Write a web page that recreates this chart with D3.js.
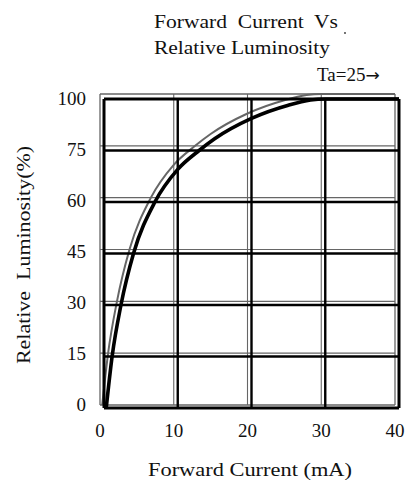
<!DOCTYPE html>
<html>
<head>
<meta charset="utf-8">
<script src="https://cdn.jsdelivr.net/npm/d3@7"></script>
<style>
  body { margin: 0; background: #fff; }
  text { font-family: "Liberation Serif", "DejaVu Serif", serif; fill: #111; white-space: pre; }
</style>
</head>
<body>
<svg id="chart" width="408" height="484"></svg>
<script>
// grid ticks (y axis is not linear: equal rows for 0..75 then 100)
const xTicks = [0, 10, 20, 30, 40]
const yTicks = [0, 15, 30, 45, 60, 75, 100]

// forward current (mA) vs relative luminosity (%)
const current = [0.3, 1.1, 2.3, 4.0, 6.9, 10, 12.9, 15, 20, 25, 28, 30, 40]
const luminosity = [0, 15, 30, 45, 60, 69.5, 75, 80.7, 90.6, 97, 99.5, 100, 100]

const svg = d3.select('#chart')

// the plot is printed twice: a faint copy shifted up-left, and the bold one
const layers = [
  { left: 100, right: 395, top: 94, bottom: 405, color: '#666', grid: 1.1, frame: 1.3, curve: 2 },
  { left: 104, right: 399, top: 99, bottom: 408, color: '#000', grid: 2.4, frame: 3, curve: 3.6 }
]

const makeScales = (l) => {
  const x = d3.scaleLinear().domain([0, 40]).range([l.left, l.right])
  const y = d3.scaleLinear()
    .domain(yTicks)
    .range(yTicks.map((d, i) => l.bottom - i * (l.bottom - l.top) / (yTicks.length - 1)))
  return { x, y }
}

layers.forEach((l) => {
  const { x, y } = makeScales(l)
  const g = svg.append('g')

  g.selectAll('.vline')
    .data(xTicks)
    .enter()
    .append('line')
    .attr('x1', (d) => x(d))
    .attr('x2', (d) => x(d))
    .attr('y1', y(0))
    .attr('y2', y(100))
    .attr('stroke', l.color)
    .attr('stroke-width', (d) => (d === 0 || d === 40) ? l.frame : l.grid)

  g.selectAll('.hline')
    .data(yTicks)
    .enter()
    .append('line')
    .attr('x1', x(0))
    .attr('x2', x(40))
    .attr('y1', (d) => y(d))
    .attr('y2', (d) => y(d))
    .attr('stroke', l.color)
    .attr('stroke-width', (d) => (d === 0 || d === 100) ? l.frame : l.grid)

  const line = d3.line()
    .x((d, i) => x(current[i]))
    .y((d) => y(d))
    .curve(d3.curveMonotoneX)

  g.append('path')
    .datum(luminosity)
    .attr('d', line)
    .attr('fill', 'none')
    .attr('stroke', l.color)
    .attr('stroke-width', l.curve)
})

// tick labels sit between the two copies
const xLab = makeScales(layers[0]).x
const yLab = d3.scaleLinear()
  .domain(yTicks)
  .range(yTicks.map((d, i) => 404 - i * (404 - 98) / (yTicks.length - 1)))

svg.selectAll('.xtick')
  .data(xTicks)
  .enter()
  .append('text')
  .attr('x', (d) => xLab(d))
  .attr('y', 437)
  .attr('text-anchor', 'middle')
  .style('font-size', '19px')
  .text((d) => d)

svg.selectAll('.ytick')
  .data(yTicks)
  .enter()
  .append('text')
  .attr('x', 86)
  .attr('y', (d) => yLab(d))
  .attr('dy', '0.35em')
  .attr('text-anchor', 'end')
  .style('font-size', '19px')
  .text((d) => d)

// titles
svg.append('text')
  .attr('x', 154)
  .attr('y', 28)
  .attr('textLength', 184)
  .attr('lengthAdjust', 'spacingAndGlyphs')
  .style('font-size', '19px')
  .text('Forward  Current  Vs')

svg.append('text')
  .attr('x', 154)
  .attr('y', 54)
  .attr('textLength', 176)
  .attr('lengthAdjust', 'spacingAndGlyphs')
  .style('font-size', '19px')
  .text('Relative Luminosity')

svg.append('circle')
  .attr('cx', 345)
  .attr('cy', 33)
  .attr('r', 0.9)
  .attr('fill', '#333')

const ta = svg.append('text')
  .attr('x', 317)
  .attr('y', 81)
  .style('font-size', '19px')
ta.append('tspan').text('Ta=25')
ta.append('tspan')
  .style('font-family', '"DejaVu Sans", sans-serif')
  .style('font-size', '17px')
  .text('→')

svg.append('text')
  .attr('x', 148)
  .attr('y', 476)
  .attr('textLength', 204)
  .attr('lengthAdjust', 'spacingAndGlyphs')
  .style('font-size', '19px')
  .text('Forward Current (mA)')

svg.append('text')
  .attr('transform', 'translate(30,255) rotate(-90)')
  .attr('text-anchor', 'middle')
  .attr('textLength', 218)
  .attr('lengthAdjust', 'spacingAndGlyphs')
  .style('font-size', '19px')
  .text('Relative  Luminosity(%)')
</script>
</body>
</html>
